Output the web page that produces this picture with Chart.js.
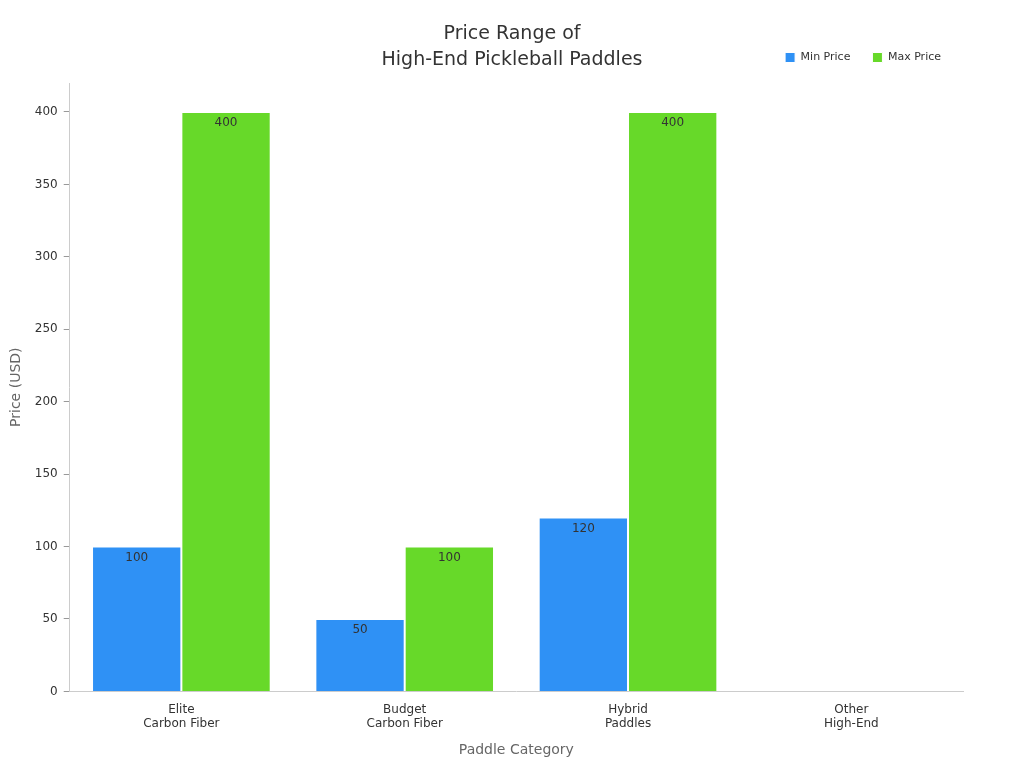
<!DOCTYPE html>
<html>
<head>
<meta charset="utf-8">
<script src="https://cdn.jsdelivr.net/npm/chart.js@4"></script>
<style>
  body { margin: 0; background: #fff; }
</style>
</head>
<body>
<canvas id="canvas" width="1024" height="768"></canvas>
<script>
var categories = [["Elite", "Carbon Fiber"], ["Budget", "Carbon Fiber"], ["Hybrid", "Paddles"], ["Other", "High-End"]];
var minPrice = [100, 50, 120, null];
var maxPrice = [400, 100, 400, null];
var titleLines = ["Price Range of", "High-End Pickleball Paddles"];

// draws title and value text just under the top of each bar
var barLabels = {
  id: "barLabels",
  beforeUpdate: function (chart) {
    var lg = chart.legend;
    if (lg && !lg._patched) {
      var f = lg.fit;
      lg.fit = function () { f.call(this); this.height += 10; };
      lg._patched = true;
    }
  },
  afterDraw: function (chart) {
    var ctx = chart.ctx;
    ctx.save();
    ctx.fillStyle = "#333";
    ctx.textAlign = "center";
    ctx.textBaseline = "middle";
    ctx.font = "19px 'DejaVu Sans'";
    ctx.fillText(titleLines[0], 512, 34);
    ctx.fillText(titleLines[1], 512, 60);
    ctx.restore();
  },
  afterDatasetsDraw: function (chart) {
    var ctx = chart.ctx;
    ctx.save();
    ctx.font = "12px 'DejaVu Sans'";
    ctx.fillStyle = "#333";
    ctx.textAlign = "center";
    ctx.textBaseline = "top";
    chart.data.datasets.forEach(function (ds, i) {
      chart.getDatasetMeta(i).data.forEach(function (bar, j) {
        if (ds.data[j] == null) return;
        ctx.fillText(ds.data[j], bar.x, bar.y + 5);
      });
    });
    ctx.restore();
  },
};

new Chart(document.getElementById("canvas").getContext("2d"), {
  type: "bar",
  data: {
    labels: categories,
    datasets: [
      { label: "Min Price", data: minPrice, backgroundColor: "#2f91f5", borderColor: "#fff", borderWidth: 1 },
      { label: "Max Price", data: maxPrice, backgroundColor: "#67d929", borderColor: "#fff", borderWidth: 1 },
    ],
  },
  options: {
    responsive: false,
    animation: false,
    devicePixelRatio: 1,
    layout: { padding: { left: 4, right: 61, top: 30, bottom: 5 } },
    datasets: { bar: { categoryPercentage: 0.8, barPercentage: 1.0 } },
    plugins: {
      title: { display: false },
      legend: {
        position: "top",
        align: "end",
        labels: {
          usePointStyle: true,
          pointStyle: "rect",
          boxWidth: 10,
          boxHeight: 10,
          padding: 22,
          color: "#333",
          font: { family: "'DejaVu Sans'", size: 11 },
        },
      },
      tooltip: { enabled: false },
    },
    scales: {
      x: {
        grid: { display: false },
        border: { color: "#ccc" },
        ticks: { color: "#333", font: { family: "'DejaVu Sans'", size: 12 } },
        title: { display: true, text: "Paddle Category", color: "#666", font: { family: "'DejaVu Sans'", size: 14 }, padding: { top: 8 } },
      },
      y: {
        min: 0,
        max: 420,
        grid: { drawOnChartArea: false, drawTicks: true, tickLength: 6, color: "#999" },
        border: { color: "#ccc" },
        ticks: {
          stepSize: 50,
          color: "#333",
          padding: 6,
          font: { family: "'DejaVu Sans'", size: 12 },
        },
        afterBuildTicks: function (axis) { axis.ticks = axis.ticks.filter(function (t) { return t.value <= 400; }); },
        title: { display: true, text: "Price (USD)", color: "#666", font: { family: "'DejaVu Sans'", size: 14 } },
      },
    },
  },
  plugins: [barLabels],
});
</script>
</body>
</html>
